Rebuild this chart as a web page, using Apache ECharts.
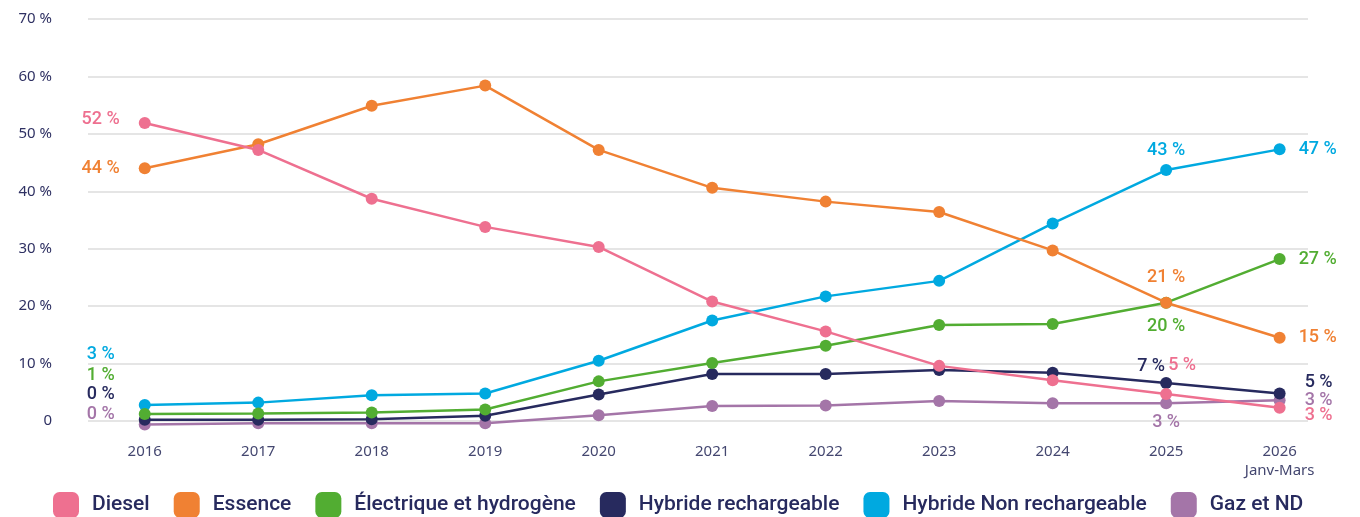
<!DOCTYPE html>
<html>
<head>
<meta charset="utf-8">
<script src="https://cdn.jsdelivr.net/npm/echarts@6/dist/echarts.min.js"></script>
<style>
html,body{margin:0;padding:0;background:#fff;}
#chart{width:1360px;height:517px;}
</style>
</head>
<body>
<div id="chart"></div>
<script>
// ---- data ----
const years = [2016, 2017, 2018, 2019, 2020, 2021, 2022, 2023, 2024, 2025, 2026];
const lastYearNote = 'Janv-Mars';
const yTicks = [0, 10, 20, 30, 40, 50, 60, 70];

const seriesNames = ['Diesel', 'Essence', 'Électrique et hydrogène', 'Hybride rechargeable', 'Hybride Non rechargeable', 'Gaz et ND'];

const diesel      = [51.9, 47.2, 38.7, 33.8, 30.3, 20.8, 15.6, 9.6, 7.1, 4.7, 2.3];
const essence     = [44.0, 48.2, 54.9, 58.4, 47.2, 40.6, 38.2, 36.4, 29.7, 20.6, 14.5];
const electrique  = [1.2, 1.3, 1.5, 2.0, 6.9, 10.1, 13.1, 16.7, 16.9, 20.6, 28.2];
const hybrideRech = [0.2, 0.2, 0.3, 0.9, 4.6, 8.2, 8.2, 8.9, 8.4, 6.6, 4.8];
const hybrideNR   = [2.8, 3.2, 4.5, 4.8, 10.5, 17.5, 21.7, 24.4, 34.4, 43.7, 47.3];
const gaz         = [-0.6, -0.4, -0.4, -0.4, 1.0, 2.6, 2.7, 3.5, 3.1, 3.1, 3.6];

// data labels (text shown at 2016, 2025, 2026)
const dieselLabels      = ['52 %', '5 %', '3 %'];
const essenceLabels     = ['44 %', '21 %', '15 %'];
const electriqueLabels  = ['1 %', '20 %', '27 %'];
const hybrideRechLabels = ['0 %', '7 %', '5 %'];
const hybrideNRLabels   = ['3 %', '43 %', '47 %'];
const gazLabels         = ['0 %', '3 %', '3 %'];

// ---- styles ----
const colors = ['#ee7090', '#f08133', '#52ad32', '#272a5e', '#00a9e0', '#a475a8'];
const allValues = [diesel, essence, electrique, hybrideRech, hybrideNR, gaz];
const allLabels = [dieselLabels, essenceLabels, electriqueLabels, hybrideRechLabels, hybrideNRLabels, gazLabels];

// label placement per series: [first, 2025, 2026] -> [position, offset]
const labelPlacement = [
  [['left', [-14, -3]], ['top', [16, -9]], ['right', [14, 8]]],
  [['left', [-14, 0]], ['top', [0, -5]], ['right', [8, 0]]],
  [['left', [-19, -39]], ['bottom', [0, 4]], ['right', [8, 0]]],
  [['left', [-19, -25]], ['top', [-15, 3]], ['right', [14, -11]]],
  [['left', [-19, -50]], ['top', [0, 0]], ['right', [8, 0]]],
  [['left', [-19, -10]], ['bottom', [0, -1]], ['right', [14, 0]]]
];

const labelIdx = {0: 0, 9: 1, 10: 2};

const series = seriesNames.map((name, s) => ({
  name: name,
  type: 'line',
  clip: false,
  symbol: 'circle',
  symbolSize: 12,
  z: 10 - s,
  lineStyle: {width: 2.5, color: colors[s]},
  itemStyle: {color: colors[s]},
  data: years.map((y, i) => {
    const d = {value: [y, allValues[s][i]]};
    if (labelIdx[i] !== undefined) {
      const k = labelIdx[i];
      const p = labelPlacement[s][k];
      d.label = {
        show: true,
        formatter: allLabels[s][k],
        position: p[0],
        offset: p[1],
        distance: 5,
        color: colors[s],
        fontSize: 18,
        fontWeight: 500,
        fontFamily: 'Roboto'
      };
    }
    return d;
  })
}));

const chart = echarts.init(document.getElementById('chart'), null, {renderer: 'canvas'});
chart.setOption({
  animation: false,
  color: colors,
  grid: {left: 88, right: 52, top: 19, bottom: 96, containLabel: false},
  legend: {
    data: seriesNames,
    left: 48,
    top: 487,
    icon: 'roundRect',
    itemWidth: 26,
    itemHeight: 26,
    itemGap: 24,
    textStyle: {color: '#272a5e', fontSize: 21, fontWeight: 500, fontFamily: 'Roboto', padding: [0, 0, 0, 8]}
  },
  xAxis: {
    type: 'value',
    min: 2015.5,
    max: 2026.25,
    interval: 0.25,
    axisLine: {show: false},
    axisTick: {show: false},
    splitLine: {show: false},
    axisLabel: {
      margin: 21,
      color: '#444770',
      fontSize: 15,
      fontFamily: 'Noto Sans',
      lineHeight: 19,
      showMinLabel: false,
      showMaxLabel: false,
      formatter: function (v) {
        const r = Math.round(v);
        if (Math.abs(v - r) > 1e-6 || years.indexOf(r) < 0) return '';
        return r === years[years.length - 1] ? r + '\n' + lastYearNote : String(r);
      }
    }
  },
  yAxis: {
    type: 'value',
    min: yTicks[0],
    max: yTicks[yTicks.length - 1],
    interval: 10,
    axisLine: {show: false},
    axisTick: {show: false},
    splitLine: {lineStyle: {color: '#dcdcdc', width: 1.5}},
    axisLabel: {
      margin: 36,
      color: '#2f3163',
      fontSize: 15,
      fontFamily: 'Noto Sans',
      formatter: function (v) { return v === 0 ? '0' : v + ' %'; }
    }
  },
  series: series
});
</script>
</body>
</html>
